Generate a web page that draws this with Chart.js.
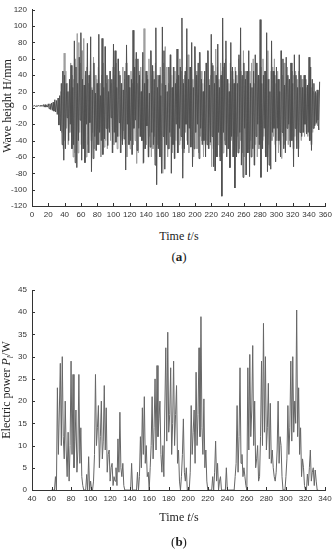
<!DOCTYPE html>
<html>
<head>
<meta charset="utf-8">
<script src="https://cdn.jsdelivr.net/npm/chart.js@4.4.0/dist/chart.umd.min.js"></script>
<style>
  body { margin: 0; background: #fff; width: 336px; height: 550px; position: relative; overflow: hidden;
         font-family: "Liberation Serif", "DejaVu Serif", serif; color: #222; }
  canvas { position: absolute; left: 0; }
  .lbl { position: absolute; font-size: 12px; white-space: nowrap; transform: translate(-50%, -50%); }
  .ytitle { position: absolute; font-size: 12px; white-space: nowrap; transform: translate(-50%, -50%) rotate(-90deg); }
  .tag { position: absolute; font-size: 13px; white-space: nowrap; transform: translate(-50%, -50%); }
</style>
</head>
<body>
<canvas id="waveChart" width="336" height="225" style="top:0"></canvas>
<canvas id="powerChart" width="336" height="240" style="top:270px"></canvas>

<div class="ytitle" style="left:7px; top:106px">Wave height H/mm</div>
<div class="lbl" style="left:179px; top:236px">Time <i>t</i>/s</div>
<div class="tag" style="left:179px; top:257px">(<b>a</b>)</div>

<div class="ytitle" style="left:7px; top:390px">Electric power <i>P</i><sub style="font-size:8px"><i>l</i></sub>/W</div>
<div class="lbl" style="left:179px; top:517px">Time <i>t</i>/s</div>
<div class="tag" style="left:179px; top:542px">(<b>b</b>)</div>

<script>
// wave height, dark trace, one value per second from t = 0
const waveStartA = 0;
const waveA = [
  2,3,2,3,2,2,3,2,3,2,
  3,2,3,2,4,1,4,1,3,1,
  5,-1,5,-2,6,-3,7,-4,10,-5,
  9,-8,12,-21,15,-28,30,-45,45,-64,
  40,-50,30,-12,20,-40,35,-20,52,-50,
  25,-45,82,-67,50,-73,30,-40,62,-15,
  92,-64,35,-50,28,-67,45,-20,79,-55,
  40,-18,87,-78,22,-62,55,-35,18,-52,
  30,-45,90,-30,15,-40,85,-57,25,-38,
  75,-25,40,-46,20,-30,45,-12,35,-55,
  78,-30,70,-42,25,-35,60,-18,40,-55,
  30,-45,22,-38,45,-76,77,-20,40,-45,
  25,-40,35,-57,95,-25,50,-15,68,-52,
  60,-25,40,-35,20,-40,68,-67,30,-50,
  45,-22,35,-60,18,-48,70,-30,52,-45,
  35,-70,98,-94,25,-50,40,-60,15,-80,
  99,-35,70,-75,28,-45,20,-50,50,-30,
  65,-80,25,-45,50,-62,30,-20,72,-55,
  40,-25,50,-35,110,-86,30,-50,45,-20,
  97,-45,35,-25,50,-48,80,-72,25,-50,
  75,-30,40,-20,55,-62,68,-25,35,-45,
  20,-40,45,-60,55,-45,70,-50,28,-42,
  90,-35,52,-72,30,-77,40,-60,78,-30,
  25,-65,40,-108,110,-30,55,-45,82,-60,
  35,-50,20,-73,80,-35,50,-60,30,-98,
  45,-60,30,-55,65,-30,98,-70,40,-85,
  55,-25,35,-82,45,-55,70,-84,30,-60,
  25,-50,45,-70,65,-35,55,-20,40,-45,
  108,-85,30,-50,40,-25,45,-60,92,-78,
  35,-70,20,-75,82,-30,45,-25,40,-66,
  50,-25,35,-40,20,-60,70,-30,60,-50,
  28,-55,62,-25,40,-20,35,-48,55,-40,
  30,-72,65,-25,40,-50,25,-60,65,-30,
  40,-35,25,-30,40,-20,35,-32,28,-30,
  62,-40,50,-52,35,-25,30,-22,20,-18,
  22,-15,-27,32
];
// wave height, grey trace, one value per second from t = 34.5
const waveStartB = 34.5;
const waveB = [
  -10,20,-30,45,-50,67,-40,45,-25,30,
  -45,20,-30,55,-35,40,-60,35,-55,60,
  -40,91,-55,80,-30,55,-45,70,-50,85,
  -35,40,-60,50,-45,30,-55,45,-40,25,
  -30,62,-50,40,-52,35,-25,50,-45,30,
  -60,40,-35,55,-48,75,-40,30,-50,35,
  -25,45,-40,30,-55,50,-45,40,-30,55,
  -50,60,-35,45,-55,30,-40,50,-28,35,
  -45,55,-60,40,-35,25,-50,45,-57,30,
  -45,35,-40,60,-68,30,-55,45,-35,50,
  -40,35,-68,97,-50,30,-45,40,-60,60,
  -35,70,-60,40,-50,45,-35,55,-60,40,
  -45,35,-55,50,-40,30,-80,55,-35,75,
  -45,50,-60,30,-50,65,-35,40,-55,50,
  -62,45,-40,35,-55,30,-45,60,-40,45,
  -50,35,-55,40,-30,50,-40,65,-55,35,
  -40,50,-45,35,-60,75,-30,45,-50,40,
  -55,68,-35,45,-40,30,-60,35,-45,55,
  -40,70,-50,35,-45,40,-72,55,-50,45,
  -77,72,-40,50,-45,35,-60,55,-40,45,
  -55,50,-40,60,-45,35,-50,30,-73,55,
  -40,45,-60,35,-45,50,-55,40,-35,60,
  -50,45,-40,35,-55,70,-60,45,-82,40,
  -55,35,-50,45,-40,55,-35,60,-70,30,
  -45,55,-60,40,-50,35,-45,50,-40,60,
  -35,45,-55,40,-60,70,-45,35,-50,45,
  -40,50,-35,60,-45,30,-40,45,-55,35,
  -45,70,-62,40,-35,55,-45,30,-40,50,
  -45,35,-40,55,-30,45,-50,40,-35,45,
  -40,35,-50,45,-30,25,-40,35,-30,25,
  -35,40,-30,25,-35,30,-40,30,-45,25,
  -30,20,-25,18,-20,15,-22,20
];
// electric power, one value per second from t = 60
const powerStart = 60;
const power = [
  0,0,0,0,3,0,23,8,18,28.5,
  10,30,12,7,20,9,3,13,2,10,
  29,8,26,5,11,18,4,9,26,6,
  14,3,1,0,0,0,3.5,0,7.5,0,
  2,0,0,2,8,26,10,14,19,5,
  12,20,7,11,23.5,9,18.5,4,8,9,
  2,5,6,1,3,2,5,1,11.5,4,
  17.5,5,3,6,1,0,0,0,0,0,
  0,0,6,0,0,0,0,0,4,0,
  3,12,5,18.5,8,21,6,10,3,4,
  0,5,10,21,7,14,25,9,28,12,
  16,20,8,4,10,3,18,32,11,35.5,
  13,17,27.5,8,15,29,10,17,23.5,6,
  9,2,0,3,8,16,4,2,5,0,
  0,0,4,19,8,13,18,6,26.5,10,
  17,32,12,39,14,8,20.5,5,9,2,
  0,0,0,0,0,3,0,4,11,2,
  6,0,2,3,0,0,0,0,0,5,
  0,0,0,0,0,0,0,0,3,6,
  19,4,12,27.5,6,8,3,5,3,1,
  0,27.5,9,30.5,12,18,32.5,10,20,5,
  7,10,2,3,12,29,10,37.5,13,30,
  9,14,24,7,19.5,6,9,5,3,2,
  4,9,20,6,12,10,3,0,0,0,
  3,7,19,8,14,29,11,30,13,20,
  15,40.5,12,23,8,14,3,7,5,1,
  0,0,3.6,1,5,9,2,4,5,1,
  4.5,2,0,0
];

function toPoints(start, values) {
  return values.map((v, i) => ({ x: start + i, y: v }));
}

// small ticks pointing into the plot, like the original figure
const inwardTicks = {
  id: 'inwardTicks',
  afterDraw(chart) {
    const ctx = chart.ctx;
    const area = chart.chartArea;
    const xs = chart.scales.x;
    const ys = chart.scales.y;
    ctx.save();
    ctx.strokeStyle = '#333';
    ctx.lineWidth = 1;
    ctx.beginPath();
    xs.ticks.forEach(t => {
      const p = Math.round(xs.getPixelForValue(t.value)) + 0.5;
      ctx.moveTo(p, area.bottom);
      ctx.lineTo(p, area.bottom - 3);
    });
    ys.ticks.forEach(t => {
      const p = Math.round(ys.getPixelForValue(t.value)) + 0.5;
      ctx.moveTo(area.left, p);
      ctx.lineTo(area.left + 3, p);
    });
    ctx.stroke();
    ctx.restore();
  }
};

const tickFont = { family: '"Liberation Sans", Arial, sans-serif', size: 8 };

function makeChart(id, datasets, xRange, yRange, pad, xHeight) {
  return new Chart(document.getElementById(id), {
    type: 'line',
    data: { datasets: datasets },
    options: {
      responsive: false,
      devicePixelRatio: 1,
      animation: false,
      parsing: false,
      normalized: true,
      layout: { padding: pad },
      plugins: { legend: { display: false }, tooltip: { enabled: false } },
      elements: { point: { radius: 0 }, line: { tension: 0, borderWidth: 1 } },
      scales: {
        x: {
          type: 'linear',
          min: xRange[0], max: xRange[1],
          grid: { display: false, drawTicks: false },
          border: { display: true, color: '#333', width: 1 },
          ticks: { stepSize: 20, autoSkip: false, maxRotation: 0, padding: 4, color: '#333', font: tickFont },
          afterFit: s => { s.height = xHeight; }
        },
        y: {
          type: 'linear',
          min: yRange[0], max: yRange[1],
          grid: { display: false, drawTicks: false },
          border: { display: true, color: '#333', width: 1 },
          ticks: { stepSize: yRange[2], autoSkip: false, padding: 5, color: '#333', font: tickFont },
          afterFit: s => { s.width = 32; }
        }
      }
    },
    plugins: [inwardTicks]
  });
}

// dark trace listed first so it is painted over the grey one
makeChart('waveChart', [
  { data: toPoints(waveStartA, waveA), borderColor: '#505050' },
  { data: toPoints(waveStartB, waveB), borderColor: '#9c9c9c' }
], [0, 360], [-120, 120, 20], { top: 5, right: 10, left: 0, bottom: 0 }, 19);

makeChart('powerChart', [
  { data: toPoints(powerStart, power), borderColor: '#666' }
], [40, 340], [0, 45, 5], { top: 20, right: 11, left: 0, bottom: 0 }, 20);
</script>
</body>
</html>
